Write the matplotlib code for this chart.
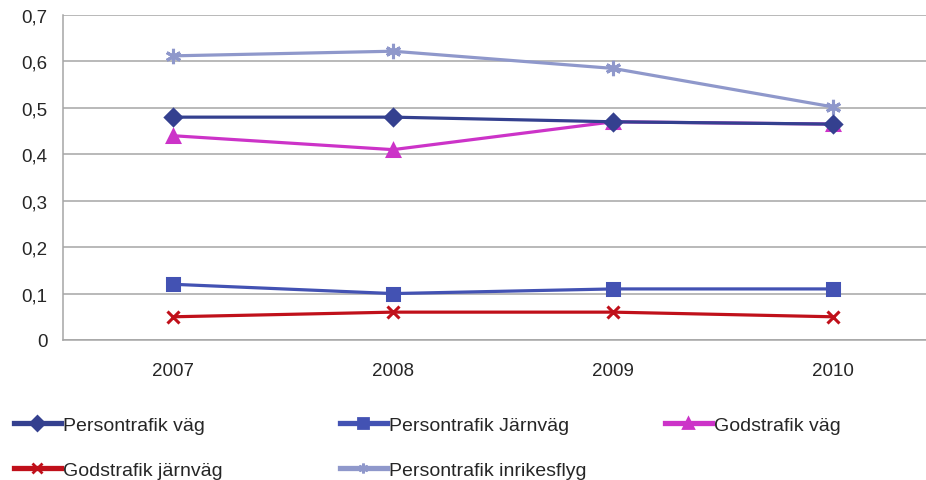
import matplotlib
matplotlib.use('Agg')
import matplotlib.pyplot as plt
from matplotlib.lines import Line2D

plt.rcParams['font.family'] = ['Liberation Sans', 'DejaVu Sans']

years = ['2007', '2008', '2009', '2010']
persontrafik_vag = [0.48, 0.48, 0.47, 0.465]
persontrafik_jarnvag = [0.12, 0.10, 0.11, 0.11]
godstrafik_vag = [0.44, 0.41, 0.47, 0.465]
godstrafik_jarnvag = [0.05, 0.06, 0.06, 0.05]
persontrafik_flyg = [0.612, 0.622, 0.585, 0.502]
yticks = [0, 0.1, 0.2, 0.3, 0.4, 0.5, 0.6, 0.7]
ylabels = ['0', '0,1', '0,2', '0,3', '0,4', '0,5', '0,6', '0,7']

names = ['Persontrafik väg', 'Persontrafik Järnväg', 'Godstrafik väg',
         'Godstrafik järnväg', 'Persontrafik inrikesflyg']
series = [persontrafik_vag, persontrafik_jarnvag, godstrafik_vag,
          godstrafik_jarnvag, persontrafik_flyg]
colors = ['#34408F', '#4352B3', '#CC33C8', '#C0101A', '#8F98CB']
markers = ['D', 's', '^', 'x', (6, 2, 0)]
msizes = [8, 9, 9, 9, 11]
zorders = [6, 5, 4, 3, 2]

fig = plt.figure(figsize=(9.26, 4.81), dpi=100)
W, H = 926, 481
ax = fig.add_axes([63 / W, (H - 341) / H, (943 - 63) / W, 325 / H])

x = range(len(years))
handles = []
for vals, name, c, m, ms, z in zip(series, names, colors, markers, msizes, zorders):
    ax.plot(x, vals, color=c, lw=2.3, marker=m, ms=ms, mew=2.2, zorder=z)
    handles.append(Line2D([], [], color=c, lw=3.8, marker=m, ms=7, mew=2, label=name))

ax.set_xlim(-0.5, 3.5)
ax.set_ylim(0, 0.7)
ax.set_xticks(list(x))
ax.set_xticklabels(years)
ax.set_yticks(yticks)
ax.set_yticklabels(ylabels)
ax.grid(axis='y', color='#A6A6A6', lw=1.1)
ax.set_axisbelow(True)
for s in ['top', 'right']:
    ax.spines[s].set_visible(False)
for s in ['left', 'bottom']:
    ax.spines[s].set_color('#A6A6A6')
    ax.spines[s].set_linewidth(1.1)
ax.tick_params(length=0, labelsize=13.5, colors='#262626')
ax.tick_params(axis='x', pad=16)
ax.tick_params(axis='y', pad=11)

cols = [([handles[0], handles[3]], 14), ([handles[1], handles[4]], 340), ([handles[2]], 665)]
for hs, xpos in cols:
    fig.legend(handles=hs, loc='upper left', bbox_to_anchor=(xpos / W, 1 - 417 / H),
               frameon=False, handlelength=2.4, handletextpad=0.1, labelspacing=1.42,
               borderaxespad=0, borderpad=0, fontsize=14, labelcolor='#262626')

fig.savefig('out.png', dpi=100)
